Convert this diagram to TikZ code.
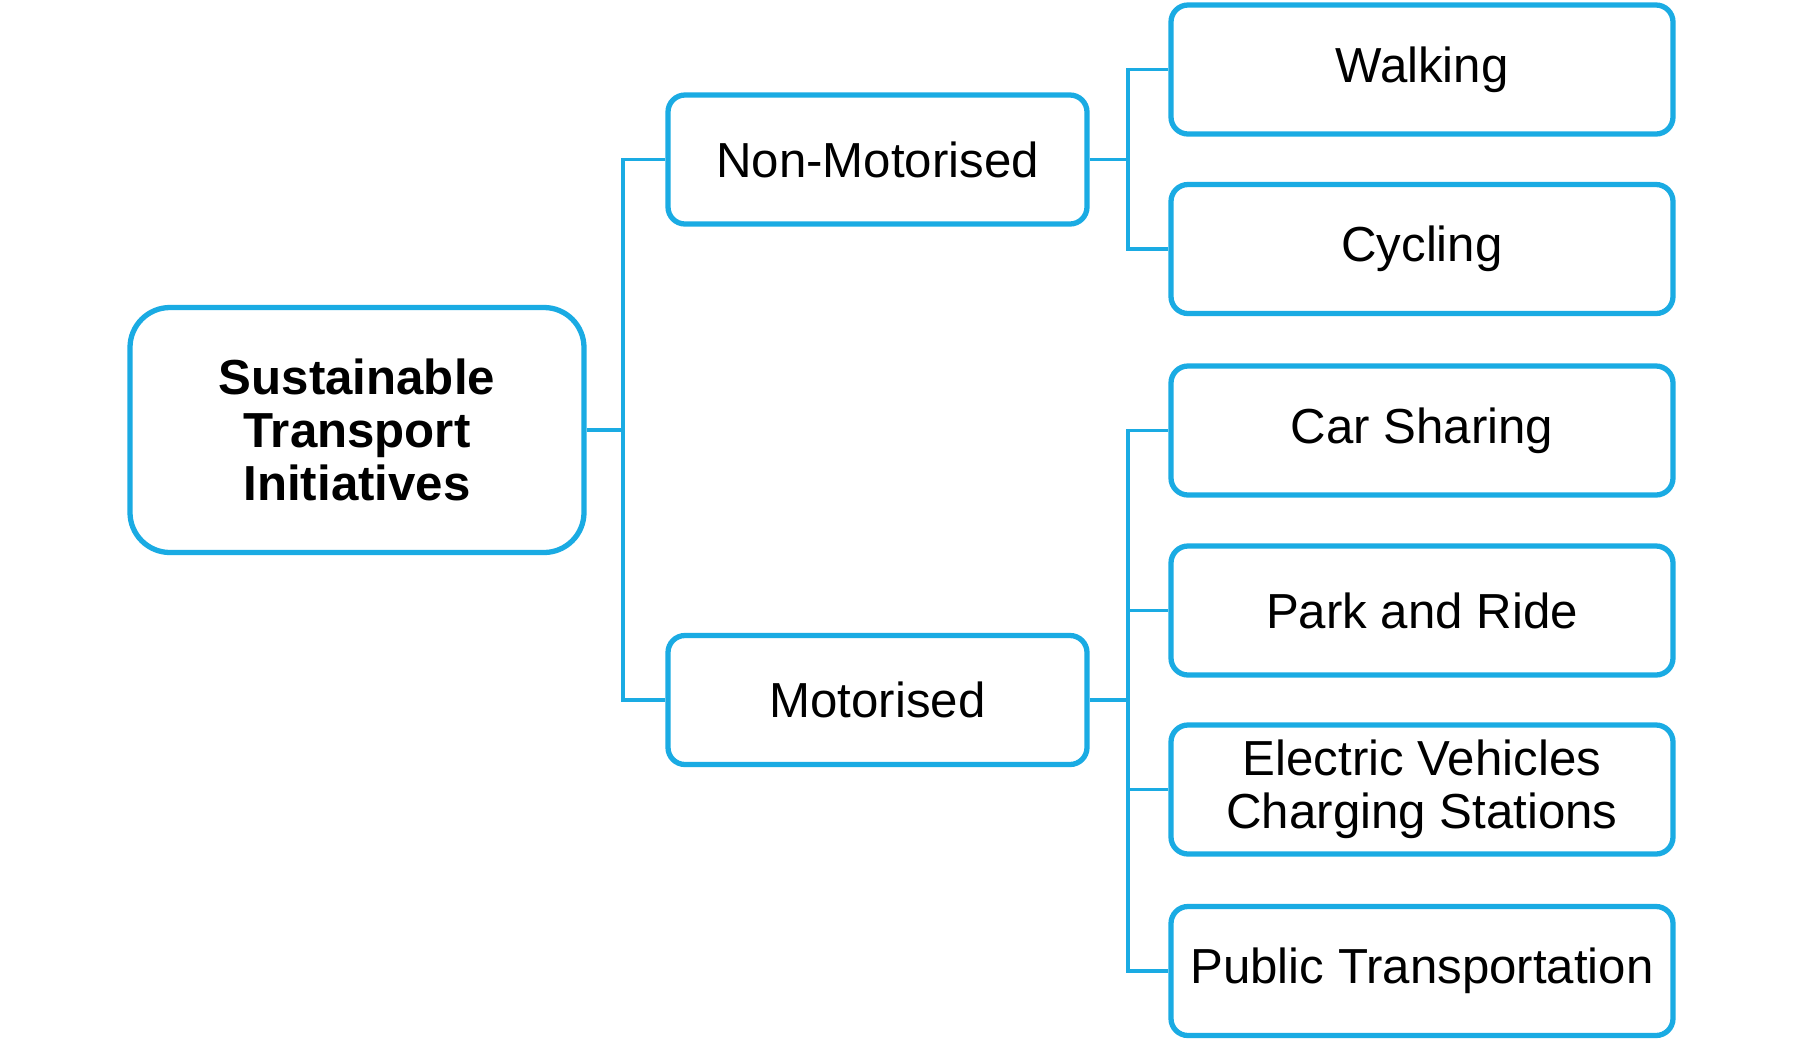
\documentclass[tikz,border=0pt]{standalone}
\usepackage{fontspec}
\setmainfont{Liberation Sans}
\usepackage{tikz}
\usetikzlibrary{positioning, calc}

\definecolor{linkblue}{HTML}{1AABE3}

\begin{document}
\begin{tikzpicture}[
    box/.style={rectangle, rounded corners=0.17cm, draw=linkblue, line width=1.5pt,
                fill=white, align=center, inner sep=2pt,
                font=\fontsize{14}{15}\selectfont},
    rootbox/.style={box, rounded corners=0.4cm, minimum width=4.54cm,
                    minimum height=2.45cm, font=\fontsize{14}{15}\selectfont\bfseries},
    midbox/.style={box, minimum width=4.19cm, minimum height=1.29cm},
    leafbox/.style={box, minimum width=5.02cm, minimum height=1.29cm},
    link/.style={draw=linkblue, line width=0.9pt}
]

    % Frame
    \useasboundingbox (0, 0) rectangle (18, -10.41);

    % Root
    \node[rootbox] (root) at (3.57, -4.30) {Sustainable\\Transport\\Initiatives};

    % Second level
    \node[midbox] (nonmot) at (8.775, -1.595) {Non-Motorised};
    \node[midbox] (mot) at (8.775, -7.00) {Motorised};

    % Leaves
    \node[leafbox] (walk) at (14.22, -0.695) {Walking};
    \node[leafbox] (cycle) at (14.22, -2.49) {Cycling};
    \node[leafbox] (carshare) at (14.22, -4.305) {Car Sharing};
    \node[leafbox] (parkride) at (14.22, -6.105) {Park and Ride};
    \node[leafbox] (evcharge) at (14.22, -7.895) {Electric Vehicles\\Charging Stations};
    \node[leafbox] (publictr) at (14.22, -9.71) {Public Transportation};

    % Branch points
    \coordinate (trunkA) at (6.23, -4.30);
    \coordinate (trunkB) at (11.28, -1.595);
    \coordinate (trunkC) at (11.28, -7.00);

    % Links from root
    \draw[link] (root.east) -- (trunkA) |- (nonmot.west);
    \draw[link] (trunkA) |- (mot.west);

    % Links from Non-Motorised
    \draw[link] (nonmot.east) -- (trunkB) |- (walk.west);
    \draw[link] (trunkB) |- (cycle.west);

    % Links from Motorised
    \draw[link] (mot.east) -- (trunkC) |- (carshare.west);
    \draw[link] (trunkC) |- (parkride.west);
    \draw[link] (trunkC) |- (evcharge.west);
    \draw[link] (trunkC) |- (publictr.west);

\end{tikzpicture}
\end{document}
